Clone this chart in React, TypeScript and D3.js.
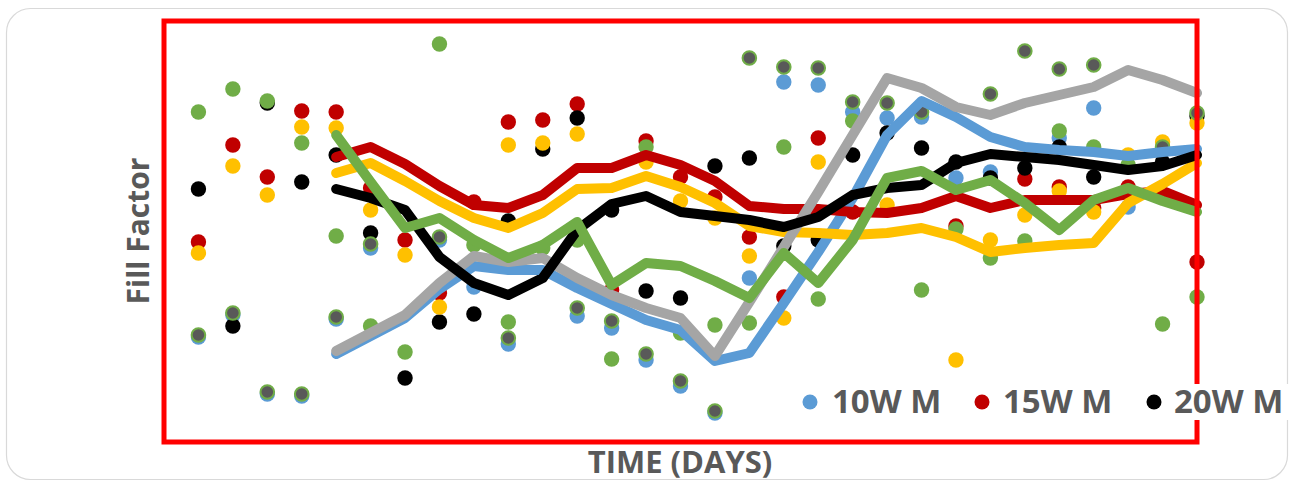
import React from "react";
import * as d3 from "d3";

// Categories: days 1..30
const days = [1,2,3,4,5,6,7,8,9,10,11,12,13,14,15,16,17,18,19,20,21,22,23,24,25,26,27,28,29,30];
// Moving-average trend lines start at day 5
const trendDays = [5,6,7,8,9,10,11,12,13,14,15,16,17,18,19,20,21,22,23,24,25,26,27,28,29,30];

// Scatter values (arbitrary fill factor units)
const blueDots = [105,127,48,46,123,194,null,202,155,98,null,126,114,82,56,29,164,360,357,330,324,325,264,270,null,304,334,235,null,null];
const redDots = [200,297,265,331,330,254,202,149,240,320,322,338,152,301,265,245,205,145,304,230,null,null,216,null,263,255,234,255,null,180];
const blackDots = [253,116,339,260,287,209,64,120,128,221,293,324,232,151,144,276,284,196,202,287,309,294,280,264,274,295,265,null,280,326];
const yellowDots = [189,276,247,315,314,232,187,135,null,297,299,308,null,280,241,224,186,124,280,null,237,null,82,202,227,251,230,287,300,319];
const greenDots = [330,353,341,299,206,116,90,398,197,120,194,202,83,295,109,117,119,295,143,321,null,152,213,184,201,311,295,277,118,145];
const grayDots = [107,129,50,48,125,198,null,205,null,104,null,134,121,88,61,31,384,375,374,340,339,330,null,348,391,373,377,null,295,329];

// Trend line values
const blueTrend = [88,106,124,153,176,172,172,154,138,122,112,81,89,139,190,244,307,341,325,305,295,292,290,286,290,293];
const grayTrend = [91,109,127,159,186,180,184,164,147,134,124,86,140,195,250,307,364,354,335,327,339,347,355,372,362,349];
const redTrend = [285,295,278,256,237,234,247,274,274,287,277,261,236,233,233,230,229,234,246,234,242,242,242,248,251,237];
const blackTrend = [253,244,232,185,159,147,164,212,238,246,230,226,222,215,225,247,254,257,279,288,285,282,277,272,276,287];
const yellowTrend = [269,279,261,241,224,214,229,253,254,266,255,239,216,210,209,207,209,214,205,190,194,197,199,239,258,279];
const greenTrend = [307,260,214,224,202,184,197,220,157,179,176,161,144,189,159,202,264,271,252,262,239,212,242,254,241,230];

const legendNames = ["10W M", "15W M", "20W M"];

const C = {
  blue: "#5b9bd5",
  red: "#c00000",
  black: "#000000",
  yellow: "#ffc000",
  green: "#70ad47",
  grayLine: "#a5a5a5",
  grayDot: "#595959",
};

export default function App() {
  const W = 1294, H = 482;
  const x = d3.scaleLinear().domain([0, 30]).range([164, 1197]);
  const y = d3.scaleLinear().domain([0, 421]).range([442, 21]);
  const line = d3
    .line<number>()
    .x((_, i) => x(trendDays[i]))
    .y((d) => y(d))
    .curve(d3.curveLinear);

  const dotSeries = [
    { vals: blueDots, fill: C.blue },
    { vals: redDots, fill: C.red },
    { vals: blackDots, fill: C.black },
    { vals: yellowDots, fill: C.yellow },
    { vals: greenDots, fill: C.green },
  ];

  const lines = [
    { vals: blueTrend, color: C.blue },
    { vals: redTrend, color: C.red },
    { vals: yellowTrend, color: C.yellow },
    { vals: grayTrend, color: C.grayLine },
    { vals: blackTrend, color: C.black },
    { vals: greenTrend, color: C.green },
  ];

  const legendItems = [
    { name: legendNames[0], color: C.blue, mx: 810, tx: 832 },
    { name: legendNames[1], color: C.red, mx: 982, tx: 1003 },
    { name: legendNames[2], color: C.black, mx: 1154, tx: 1174 },
  ];

  const font = "'Open Sans', 'DejaVu Sans', sans-serif";

  return (
    <div style={{ position: "fixed", left: 0, top: 0, width: W, height: H, background: "#fff" }}>
      <svg width={W} height={H} style={{ display: "block" }}>
        <rect x={0} y={0} width={W} height={H} fill="#fff" />
        <rect x={6.5} y={8.5} width={1281} height={471} rx={24} ry={24} fill="#fff" stroke="#d9d9d9" strokeWidth={1.2} />
        {/* scatter points */}
        {dotSeries.map((s, si) => (
          <g key={si}>
            {s.vals.map((v, i) =>
              v == null ? null : <circle key={i} cx={x(days[i])} cy={y(v)} r={7.7} fill={s.fill} />
            )}
          </g>
        ))}
        <g>
          {grayDots.map((v, i) =>
            v == null ? null : (
              <circle key={i} cx={x(days[i])} cy={y(v)} r={6.8} fill={C.grayDot} stroke={C.green} strokeWidth={2} />
            )
          )}
        </g>
        {/* trend lines */}
        {lines.map((l, li) => (
          <path key={li} d={line(l.vals) || ""} fill="none" stroke={l.color} strokeWidth={10} strokeLinejoin="round" strokeLinecap="round" />
        ))}
        {/* plot border */}
        <rect x={164} y={21} width={1033} height={421} fill="none" stroke="#ff0000" strokeWidth={5} />
        {/* legend */}
        <rect x={795} y={384} width={495} height={36} fill="#fff" />
        {legendItems.map((it, i) => (
          <g key={i}>
            <circle cx={it.mx} cy={402} r={7.5} fill={it.color} />
            <text x={it.tx} y={413} fontFamily={font} fontWeight={700} fontSize={33} fill="#595959">
              {it.name}
            </text>
          </g>
        ))}
        {/* axis titles */}
        <text x={680} y={473} textAnchor="middle" fontFamily={font} fontWeight={700} fontSize={31} fill="#595959">
          TIME (DAYS)
        </text>
        <text transform="translate(149,231) rotate(-90)" textAnchor="middle" fontFamily={font} fontWeight={700} fontSize={30} fill="#595959">
          Fill Factor
        </text>
      </svg>
    </div>
  );
}
